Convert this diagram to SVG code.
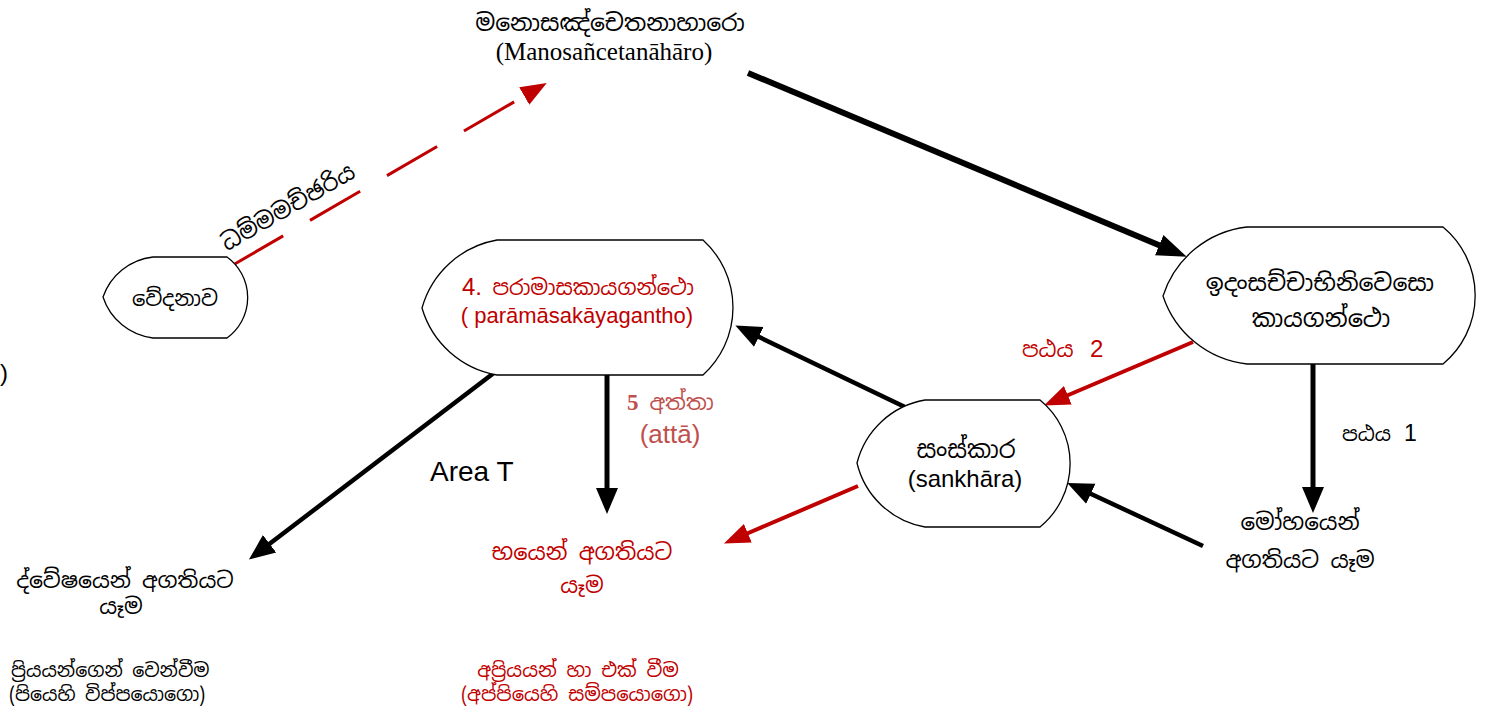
<svg xmlns="http://www.w3.org/2000/svg" width="1486" height="714" viewBox="0 0 1486 714">
<style>
.node{fill:#fff;stroke:#000;stroke-width:1.3}
.si{font-family:"Noto Sans Sinhala","Noto Serif Sinhala","Iskoola Pota","Noto Sans",sans-serif;fill:#000}
.ar{font-family:"Liberation Sans",Arial,sans-serif;fill:#000}
.tm{font-family:"Liberation Serif","Times New Roman",serif;fill:#000}
.red{fill:#c00000}
.pink{fill:#c0504d}
.mid{text-anchor:middle}
.cb{stroke:#000;fill:none}
.cr{stroke:#c00000;fill:none}
</style>
<defs>
<marker id="hb" markerUnits="userSpaceOnUse" markerWidth="32" markerHeight="26" refX="2" refY="13" orient="auto"><path d="M0,2 L30,13 L0,24 Z" fill="#000"/></marker>
<marker id="hbs" markerUnits="userSpaceOnUse" markerWidth="28" markerHeight="24" refX="2" refY="12" orient="auto"><path d="M0,1 L26,12 L0,23 Z" fill="#000"/></marker>
<marker id="hr" markerUnits="userSpaceOnUse" markerWidth="28" markerHeight="24" refX="2" refY="12" orient="auto"><path d="M0,2 L26,12 L0,22 Z" fill="#c00000"/></marker>
</defs>

<g id="connectors">
<line class="cb" x1="748" y1="73" x2="1161" y2="246" stroke-width="6" marker-end="url(#hb)"/>
<line class="cr" x1="233" y1="265" x2="526" y2="95" stroke-width="3" stroke-dasharray="58 31" marker-end="url(#hr)"/>
<line class="cb" x1="907" y1="408" x2="757" y2="336" stroke-width="4.5" marker-end="url(#hbs)"/>
<line class="cb" x1="1313" y1="364" x2="1313" y2="489" stroke-width="5" marker-end="url(#hbs)"/>
<line class="cr" x1="1193" y1="342" x2="1066" y2="396" stroke-width="4" marker-end="url(#hr)"/>
<line class="cr" x1="858" y1="486" x2="746" y2="534" stroke-width="4" marker-end="url(#hr)"/>
<line class="cb" x1="1203" y1="546" x2="1089" y2="493" stroke-width="4.5" marker-end="url(#hbs)"/>
<line class="cb" x1="607" y1="364" x2="607" y2="490" stroke-width="5" marker-end="url(#hbs)"/>
<line class="cb" x1="503" y1="366" x2="268" y2="545" stroke-width="4.5" marker-end="url(#hbs)"/>
<text class="si" x="292" y="214" text-anchor="middle" transform="rotate(-30 292 214)" font-size="23">ධම්මමච්ඡරිය</text>
</g>

<g id="node-vedanava">
<path class="node" d="M153,257 L227,257 A50,50 0 0 1 227,338 L153,338 A60,60 0 0 1 103,297 A60,60 0 0 1 153,257 Z"/>
<text class="si mid" x="175" y="306" font-size="21">වේදනාව</text>
</g>

<g id="node-paramasa">
<path class="node" d="M497,240 L703,240 A91,91 0 0 1 703,375 L497,375 A95,95 0 0 1 422,308 A95,95 0 0 1 497,240 Z"/>
<text class="si mid red" x="578" y="295" font-size="21"><tspan font-family="Liberation Sans, Arial, sans-serif" font-size="24">4.</tspan> පරාමාසකායගන්ථො</text>
<text class="ar mid red" x="577" y="323" font-size="22">( parāmāsakāyagantho)</text>
</g>

<g id="node-idam">
<path class="node" d="M1247,227 L1443,227 A89,89 0 0 1 1443,364 L1247,364 A100,100 0 0 1 1163,296 A100,100 0 0 1 1247,227 Z"/>
<text class="si mid" x="1320" y="291" font-size="23.5">ඉදංසච්චාභිනිවෙසො</text>
<text class="si mid" x="1321" y="327" font-size="24">කායගන්ථො</text>
</g>

<g id="node-sankhara">
<path class="node" d="M925,400 L1040,400 A82,82 0 0 1 1040,527 L925,527 A85,85 0 0 1 857,463 A85,85 0 0 1 925,400 Z"/>
<text class="si mid" x="966" y="458" font-size="24">සංස්කාර</text>
<text class="ar mid" x="965" y="487" font-size="24">(sankhāra)</text>
</g>

<g id="label-manosa">
<text class="si mid" x="610" y="31" font-size="23.5">මනොසඤ්චෙතනාහාරො</text>
<text class="tm mid" x="604" y="60" font-size="25">(Manosañcetanāhāro)</text>
</g>

<g id="label-patha2">
<text class="si red" x="1022" y="357" font-size="21">පඨය</text>
<text class="ar red" x="1090" y="357" font-size="24">2</text>
</g>

<g id="label-patha1">
<text class="si" x="1342" y="441" font-size="20">පඨය</text>
<text class="ar" x="1404" y="441" font-size="23">1</text>
</g>

<g id="label-atta">
<text class="si pink" x="627" y="410" font-size="22"><tspan font-family="Liberation Serif, Times New Roman, serif" font-weight="bold" font-size="23">5</tspan> අත්තා</text>
<text class="ar mid pink" x="670" y="443" font-size="26">(attā)</text>
</g>

<g id="label-area">
<text class="ar" x="430" y="481" font-size="28">Area T</text>
</g>

<g id="label-dvesha">
<text class="si mid" x="125" y="588" font-size="22">ද්වේෂයෙන් අගතියට</text>
<text class="si mid" x="121" y="614" font-size="22">යෑම</text>
<text class="si" x="11" y="677" font-size="19">ප්‍රියයන්ගෙන් වෙන්වීම</text>
<text class="si" x="9" y="701" font-size="19">(පියෙහි විප්පයොගො)</text>
</g>

<g id="label-bhaya">
<text class="si mid red" x="582" y="560" font-size="22.5">භයෙන් අගතියට</text>
<text class="si mid red" x="582" y="593" font-size="22">යෑම</text>
<text class="si mid red" x="578" y="677" font-size="19.5">අප්‍රියයන් හා එක් වීම</text>
<text class="si mid red" x="577" y="701" font-size="19.5">(අප්පියෙහි සම්පයොගො)</text>
</g>

<g id="label-moha">
<text class="si mid" x="1300" y="530" font-size="23">මෝහයෙන්</text>
<text class="si mid" x="1300" y="568" font-size="22.5">අගතියට යෑම</text>
</g>

<text class="ar" x="0" y="381" font-size="24">)</text>
</svg>
